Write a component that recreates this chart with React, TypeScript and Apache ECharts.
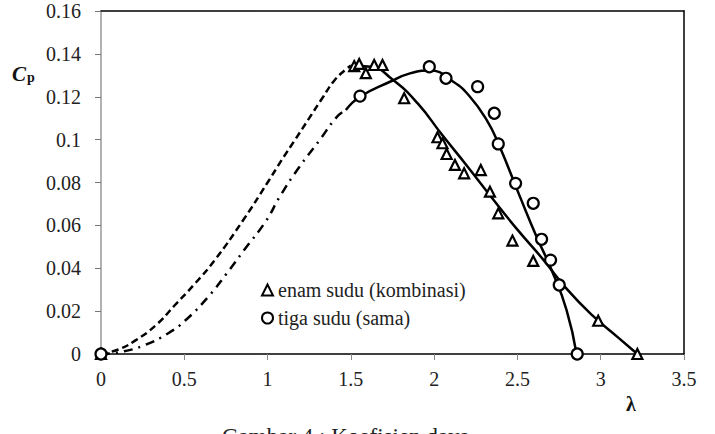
import React, { useEffect, useRef } from "react";
import * as echarts from "echarts";

// Measured points (λ, Cp)
const enamX = [0, 1.52, 1.55, 1.59, 1.64, 1.69, 1.82, 2.02, 2.05, 2.075, 2.125, 2.18, 2.28, 2.335, 2.385, 2.47, 2.595, 2.985, 3.22];
const enamY = [0, 0.1343, 0.1353, 0.131, 0.1348, 0.1348, 0.1193, 0.1011, 0.0983, 0.0933, 0.0882, 0.0843, 0.0858, 0.0757, 0.0656, 0.0529, 0.0434, 0.0155, 0];

const tigaX = [0, 1.555, 1.971, 2.071, 2.261, 2.361, 2.385, 2.489, 2.595, 2.645, 2.699, 2.751, 2.859];
const tigaY = [0, 0.1203, 0.134, 0.1286, 0.1247, 0.1123, 0.098, 0.0796, 0.0703, 0.0535, 0.0438, 0.0322, 0];

// Fitted curves
const enamDashX = [0, 0.1, 0.2, 0.33, 0.44, 0.56, 0.68, 0.854, 1.0, 1.085, 1.164, 1.25, 1.334, 1.4, 1.465, 1.5];
const enamDashY = [0, 0.002, 0.006, 0.0135, 0.0225, 0.0325, 0.0435, 0.0625, 0.08, 0.0905, 0.0998, 0.11, 0.12, 0.1275, 0.1325, 0.1345];
const enamFitX = [1.5, 1.62, 1.75, 1.9, 2.05, 2.2, 2.35, 2.5, 2.65, 2.8, 2.95, 3.1, 3.22];
const enamFitY = [0.1345, 0.134, 0.128, 0.117, 0.102, 0.0875, 0.0725, 0.058, 0.0445, 0.03, 0.018, 0.008, 0];

const tigaDashX = [0, 0.12, 0.264, 0.404, 0.504, 0.644, 0.754, 0.864, 0.99, 1.074, 1.184, 1.31, 1.415, 1.47];
const tigaDashY = [0, 0.001, 0.0042, 0.0097, 0.0155, 0.0267, 0.0375, 0.049, 0.062, 0.0735, 0.0865, 0.0995, 0.1105, 0.1138];
const tigaFitX = [1.47, 1.555, 1.735, 1.855, 1.975, 2.115, 2.215, 2.315, 2.385, 2.515, 2.615, 2.705, 2.795, 2.855];
const tigaFitY = [0.1138, 0.12, 0.127, 0.1309, 0.1322, 0.127, 0.12, 0.1092, 0.0983, 0.0734, 0.0547, 0.0392, 0.0205, 0];

const legendNames = ["enam sudu (kombinasi)", "tiga sudu (sama)"];
const xAxisName = "λ";
const caption = "Gambar 4 : Koefisien daya";

const zip = (xs: number[], ys: number[]) => xs.map((x, i) => [x, ys[i]]);

const FONT = "Liberation Serif";

export default function App() {
  const ref = useRef<HTMLDivElement>(null);
  useEffect(() => {
    if (!ref.current) return;
    const chart = echarts.init(ref.current, null, { renderer: "svg" });
    const lineBase = { type: "line", smooth: true, showSymbol: false, symbol: "none", silent: true, z: 2 };
    const markerStyle = { color: "#fff", borderColor: "#000", borderWidth: 2.2, opacity: 1 };
    chart.setOption({
      animation: false,
      backgroundColor: "#ffffff",
      textStyle: { fontFamily: FONT },
      grid: { left: 101, right: 31, top: 11, bottom: 80 },
      legend: {
        left: 256,
        top: 275,
        orient: "vertical",
        itemWidth: 11,
        itemHeight: 11,
        itemGap: 8,
        textStyle: { fontFamily: FONT, fontSize: 20, color: "#222" },
        data: [
          { name: legendNames[0], icon: "triangle" },
          { name: legendNames[1], icon: "circle" },
        ],
      },
      xAxis: [
        {
          type: "value",
          min: 0,
          max: 3.5,
          interval: 0.5,
          splitLine: { show: false },
          axisLine: { show: true, onZero: false, lineStyle: { color: "#000", width: 1.5 } },
          axisTick: { show: true, inside: false, length: 6, lineStyle: { color: "#888" } },
          axisLabel: { margin: 15, fontFamily: FONT, fontSize: 20, color: "#222" },
        },
        {
          type: "value",
          position: "top",
          min: 0,
          max: 3.5,
          splitLine: { show: false },
          axisLine: { show: true, onZero: false, lineStyle: { color: "#000", width: 1.5 } },
          axisTick: { show: false },
          axisLabel: { show: false },
        },
      ],
      yAxis: [
        {
          type: "value",
          min: 0,
          max: 0.16,
          interval: 0.02,
          splitLine: { show: false },
          axisLine: { show: true, onZero: false, lineStyle: { color: "#999", width: 1.5 } },
          axisTick: { show: true, length: 6, lineStyle: { color: "#777" } },
          axisLabel: { margin: 20, fontFamily: FONT, fontSize: 20, color: "#222" },
        },
        {
          type: "value",
          position: "right",
          min: 0,
          max: 0.16,
          splitLine: { show: false },
          axisLine: { show: true, onZero: false, lineStyle: { color: "#000", width: 1.5 } },
          axisTick: { show: false },
          axisLabel: { show: false },
        },
      ],
      series: [
        { ...lineBase, name: "enamDash", data: zip(enamDashX, enamDashY), lineStyle: { color: "#000", width: 2.5, type: [7, 4] } },
        { ...lineBase, name: "enamFit", data: zip(enamFitX, enamFitY), lineStyle: { color: "#000", width: 2.5 } },
        { ...lineBase, name: "tigaDash", data: zip(tigaDashX, tigaDashY), lineStyle: { color: "#000", width: 2.5, type: [9, 6, 2, 6] } },
        { ...lineBase, name: "tigaFit", data: zip(tigaFitX, tigaFitY), lineStyle: { color: "#000", width: 2.5 } },
        {
          type: "scatter",
          name: legendNames[0],
          symbol: "triangle",
          symbolSize: 10,
          z: 5,
          itemStyle: markerStyle,
          data: zip(enamX, enamY),
        },
        {
          type: "scatter",
          name: legendNames[1],
          symbol: "circle",
          symbolSize: 11,
          z: 5,
          itemStyle: markerStyle,
          data: zip(tigaX, tigaY),
        },
      ],
      graphic: [
        {
          type: "text",
          left: 12,
          top: 63,
          style: {
            text: "{c|C}{p|p}",
            rich: {
              c: { fontFamily: FONT, fontSize: 21, fontWeight: "bold", fontStyle: "italic", fill: "#111" },
              p: { fontFamily: FONT, fontSize: 14, fontWeight: "bold", fill: "#111", padding: [8, 0, 0, 1] },
            },
          },
        },
        {
          type: "text",
          x: 631,
          y: 404,
          style: {
            text: xAxisName,
            fontFamily: FONT,
            fontSize: 20,
            fontWeight: "bold",
            fill: "#111",
            align: "center",
            verticalAlign: "middle",
          },
        },
        {
          type: "text",
          x: 222,
          y: 436,
          style: {
            text: caption,
            fontFamily: FONT,
            fontSize: 23,
            fill: "#222",
            align: "left",
            verticalAlign: "middle",
          },
        },
      ],
    });
    return () => chart.dispose();
  }, []);
  return (
    <div
      ref={ref}
      style={{ position: "absolute", left: 0, top: 0, width: 715, height: 434, overflow: "hidden", background: "#fff" }}
    />
  );
}
